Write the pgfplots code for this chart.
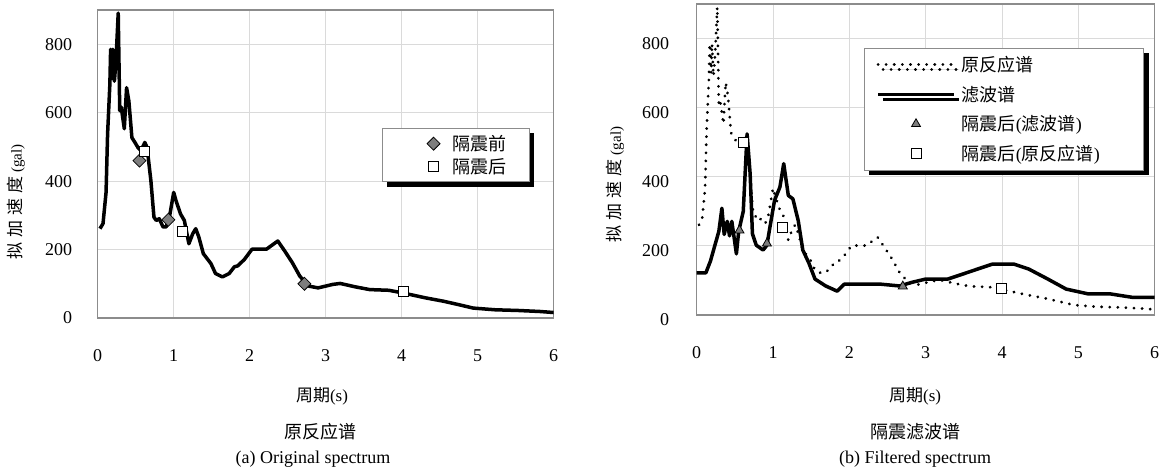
\documentclass[border=0pt]{standalone}
\usepackage{fontspec}
\setmainfont{Liberation Serif}
\newfontfamily\cjk{Noto Sans CJK SC}
\usepackage{pgfplots}
\usepackage{pgfplotstable}
\pgfplotsset{compat=1.18}
\usetikzlibrary{shadows}

\definecolor{framegray}{RGB}{140,140,140}
\definecolor{gridgray}{RGB}{218,218,218}
\definecolor{markgray}{RGB}{125,125,125}

\pgfplotstableread{
x y
0.03 261
0.07 276
0.11 367
0.13 537
0.16 683
0.17 785
0.19 700
0.20 785
0.22 692
0.24 750
0.27 891
0.29 606
0.31 616
0.35 553
0.38 673
0.41 634
0.45 527
0.49 513
0.53 498
0.57 489
0.62 513
0.65 498
0.70 401
0.74 295
0.77 285
0.81 290
0.86 266
0.90 266
0.94 290
1.00 367
1.03 343
1.09 304
1.14 285
1.20 217
1.25 246
1.29 261
1.33 237
1.39 188
1.49 159
1.55 130
1.64 120
1.73 130
1.80 150
1.84 152
1.93 171
2.03 201
2.22 201
2.37 225
2.46 196
2.56 162
2.66 122
2.78 93
2.90 88
3.09 98
3.19 101
3.39 91
3.58 83
3.83 81
4.02 73
4.31 59
4.55 49
4.75 39
4.94 29
5.23 24
5.53 22
5.82 19
6.00 16
}\origdata

\pgfplotstableread{
x y
0.00 122
0.12 122
0.18 156
0.24 203
0.29 242
0.33 309
0.36 233
0.40 271
0.43 229
0.46 271
0.52 177
0.55 242
0.61 300
0.66 524
0.70 409
0.73 235
0.78 202
0.87 188
0.92 202
0.96 255
1.02 332
1.09 370
1.14 438
1.20 346
1.26 336
1.33 273
1.39 188
1.47 150
1.55 104
1.69 84
1.84 69
1.93 89
2.18 89
2.42 89
2.66 84
2.81 94
3.00 104
3.29 104
3.48 118
3.68 133
3.87 147
4.16 147
4.35 133
4.60 104
4.84 75
5.13 61
5.42 61
5.71 51
6.00 51
}\filtdata

\newcommand{\ylab}{{\cjk\fontsize{17bp}{19bp}\selectfont 拟\hspace{5bp}加\hspace{5bp}速\hspace{5bp}度}\hspace{4bp}{\fontsize{15bp}{17bp}\selectfont(gal)}}

\pgfplotsset{
  myaxis/.style={
    scale only axis, anchor=south west,
    xmin=0, xmax=6, ymin=0, ymax=900,
    xtick={0,1,2,3,4,5,6}, ytick={0,200,400,600,800},
    grid=major, major grid style={gridgray, line width=0.8bp},
    axis line style={framegray, line width=1.3bp},
    major tick length=0pt,
    tick label style={font=\fontsize{18bp}{20bp}\selectfont},
    /pgf/number format/assume math mode=true,
    xticklabel style={yshift=-28bp},
    yticklabel style={xshift=-22bp},
    legend cell align=left,
  }
}

\begin{document}
\begin{tikzpicture}
\useasboundingbox (0,0) rectangle (1165bp,470bp);

% ---------- (a) ----------
\begin{axis}[myaxis,
  at={(97.7bp,152bp)}, width=456bp, height=308bp,
  xlabel={{\cjk 周期}(s)},
  every axis x label/.style={at={(axis description cs:0.492,-0.253)}, anchor=center, font=\fontsize{17bp}{19bp}\selectfont},
  ylabel={\ylab},
  every axis y label/.style={at={(axis description cs:-0.179,0.377)}, rotate=90, anchor=center},
  legend image code/.code={\path (0bp,0bp) (58bp,0bp);\draw[mark repeat=2,mark phase=2,#1] plot coordinates {(0bp,0bp)(41bp,0bp)(82bp,0bp)};},
  legend style={at={(axis description cs:0.623,0.617)}, anchor=north west,
    draw=framegray, line width=0.8bp, fill=white,
    drop shadow={shadow xshift=5bp, shadow yshift=-5bp, fill=black, opacity=1},
    inner xsep=10bp, inner ysep=5bp, row sep=2bp,
    font=\cjk\fontsize{18bp}{20bp}\selectfont},
]
\addplot[black, line width=3.5bp, line join=round, forget plot] table {\origdata};
\addplot[only marks, mark=square*, mark size=4.6bp,
  mark options={rotate=45, fill=markgray, draw=black, line width=0.8bp}]
  coordinates {(0.55,460) (0.93,287) (2.72,100)};
\addlegendentry{隔震前\hspace*{10bp}\null}
\addplot[only marks, mark=square*, mark size=5bp,
  mark options={fill=white, draw=black, line width=1bp}]
  coordinates {(0.62,486) (1.11,253) (4.02,76)};
\addlegendentry{隔震后\hspace*{10bp}\null}
\end{axis}

% ---------- (b) ----------
\begin{axis}[myaxis,
  at={(696.7bp,155bp)}, width=458bp, height=311bp,
  yticklabel style={xshift=-2bp, yshift=-5bp},
  xlabel={{\cjk 周期}(s)},
  every axis x label/.style={at={(axis description cs:0.477,-0.26)}, anchor=center, font=\fontsize{17bp}{19bp}\selectfont},
  ylabel={\ylab},
  every axis y label/.style={at={(axis description cs:-0.178,0.42)}, rotate=90, anchor=center},
  legend image code/.code={\path (0bp,0bp) (80bp,0bp);\draw[mark repeat=2,mark phase=2,#1] plot coordinates {(0bp,0bp)(38bp,0bp)(76bp,0bp)};},
  legend style={at={(axis description cs:0.365,0.859)}, anchor=north west,
    draw=framegray, line width=0.8bp, fill=white,
    drop shadow={shadow xshift=5bp, shadow yshift=-5bp, fill=black, opacity=1},
    inner xsep=12bp, inner ysep=6bp, row sep=9bp,
    font=\cjk\fontsize{18bp}{20bp}\selectfont},
]
\addplot[black, line width=3bp, line cap=round, dash pattern=on 0.1bp off 8bp] table {\origdata};
\addlegendentry{原反应谱}
\addplot[black, line width=3.5bp, line join=round] table {\filtdata};
\addlegendentry{滤波谱}
\addplot[only marks, mark=triangle*, mark size=5.2bp,
  mark options={fill=markgray, draw=black, line width=0.8bp}]
  coordinates {(0.56,245) (0.92,207) (2.70,83)};
\addlegendentry{隔震后{\rmfamily(}滤波谱{\rmfamily)}}
\addplot[only marks, mark=square*, mark size=5bp,
  mark options={fill=white, draw=black, line width=1bp}]
  coordinates {(0.61,500) (1.12,252) (3.99,76)};
\addlegendentry{隔震后{\rmfamily(}原反应谱{\rmfamily)}\hspace*{30bp}\null}
\end{axis}

% captions
\node[font=\cjk\fontsize{18bp}{20bp}\selectfont] at (320bp,38bp) {原反应谱};
\node[font=\fontsize{18bp}{20bp}\selectfont] at (313bp,11bp) {(a) Original spectrum};
\node[font=\cjk\fontsize{18bp}{20bp}\selectfont] at (915bp,38bp) {隔震滤波谱};
\node[font=\fontsize{18bp}{20bp}\selectfont] at (915bp,11bp) {(b) Filtered spectrum};
\end{tikzpicture}
\end{document}
